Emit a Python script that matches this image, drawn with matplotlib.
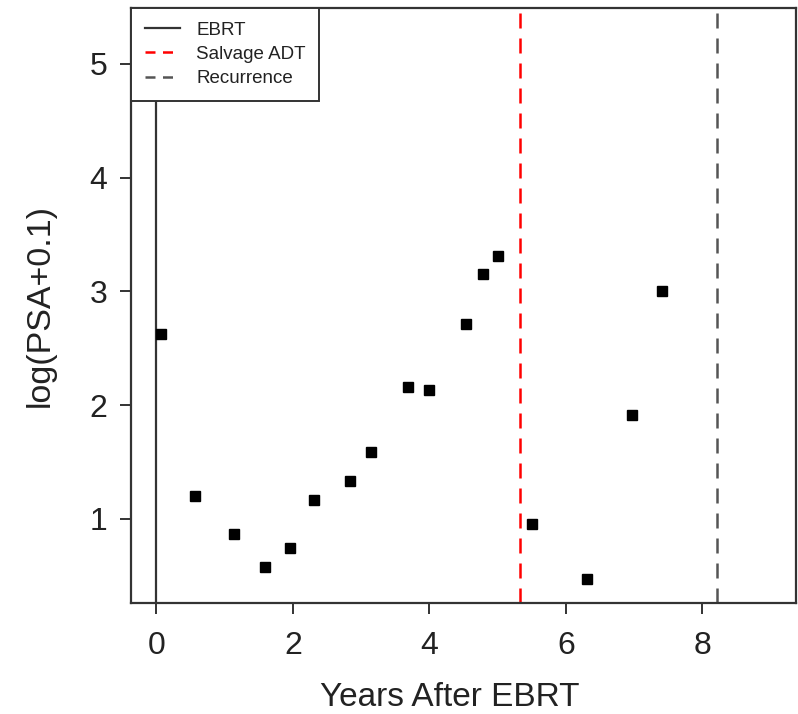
import matplotlib
matplotlib.use("Agg")
import matplotlib.pyplot as plt
from matplotlib.lines import Line2D

plt.rcParams['font.family'] = ['Liberation Sans', 'DejaVu Sans']

# PSA history after radiotherapy
years = [0.07, 0.56, 1.14, 1.59, 1.96, 2.31, 2.83, 3.15, 3.68, 4.00,
         4.53, 4.78, 5.00, 5.50, 6.31, 6.97, 7.41]
log_psa = [2.62, 1.20, 0.87, 0.58, 0.745, 1.165, 1.335, 1.59, 2.16, 2.13,
           2.71, 3.15, 3.31, 0.955, 0.47, 1.91, 3.005]

ebrt_time = 0.0
salvage_adt_time = 5.32
recurrence_time = 8.22

x_ticks = [0, 2, 4, 6, 8]
y_ticks = [1, 2, 3, 4, 5]

fig = plt.figure(figsize=(7.98, 7.14), dpi=100)
ax = fig.add_axes([0.1642, 0.1555, 0.8333, 0.8333])

frame_col = '#333333'
text_col = '#222222'

ax.axvline(ebrt_time, color='#333333', lw=1.6, zorder=1)
ax.axvline(salvage_adt_time, color='red', lw=1.8, dashes=(6, 4), zorder=1)
ax.axvline(recurrence_time, color='#555555', lw=1.8, dashes=(6, 4), zorder=1)

ax.plot(years, log_psa, ls='none', marker='s', ms=7, color='black', zorder=3)

ax.set_xlim(-0.37, 9.37)
ax.set_ylim(0.26, 5.49)
ax.set_xticks(x_ticks)
ax.set_yticks(y_ticks)
ax.tick_params(direction='out', length=8, width=1.4, color=frame_col,
               labelsize=23, labelcolor=text_col)
ax.tick_params(axis='x', pad=12)
ax.tick_params(axis='y', pad=9)
for s in ax.spines.values():
    s.set_linewidth(1.6)
    s.set_color(frame_col)

ax.set_xlabel('Years After EBRT', fontsize=24, color=text_col, labelpad=15,
              x=0.48)
ax.set_ylabel('log(PSA+0.1)', fontsize=24.5, color=text_col, labelpad=24)

handles = [
    Line2D([], [], color='#333333', lw=1.6),
    Line2D([], [], color='red', lw=1.8, dashes=(4, 3)),
    Line2D([], [], color='#555555', lw=1.8, dashes=(4, 3)),
]
leg = ax.legend(handles, ['EBRT', 'Salvage ADT', 'Recurrence'],
                loc='upper left', borderaxespad=0, fancybox=False,
                fontsize=13.5, handlelength=1.9, handletextpad=0.85,
                labelspacing=0.38, borderpad=0.72, framealpha=1)
leg.get_frame().set_edgecolor(frame_col)
leg.get_frame().set_linewidth(1.4)
for t in leg.get_texts():
    t.set_color(text_col)

fig.savefig('out.png', dpi=100)
